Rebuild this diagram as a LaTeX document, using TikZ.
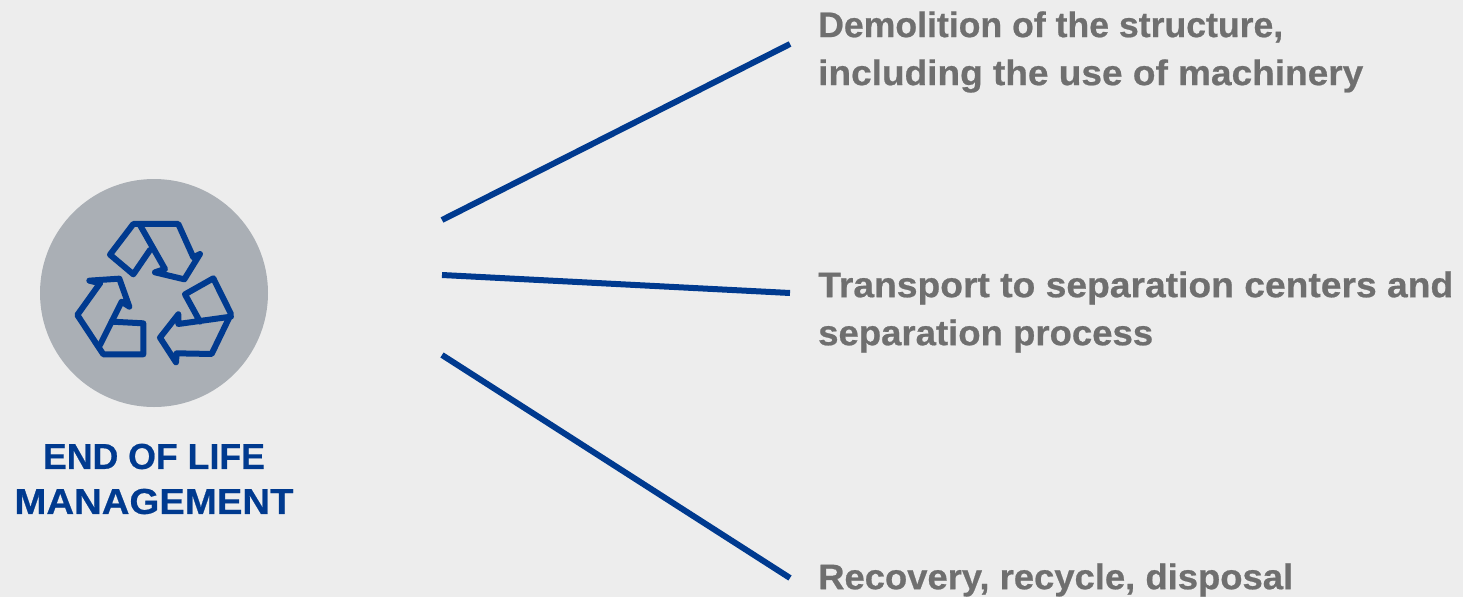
\documentclass[tikz,border=0pt]{standalone}
\usepackage{graphicx}
\usepackage{fontspec}
\setmainfont{Liberation Sans}
\newfontfamily\heavyfont[FakeBold=0.6]{Liberation Sans Bold}
\newcommand{\fitline}[2]{\resizebox{#1pt}{\height}{#2}}
\definecolor{bgc}{HTML}{EDEDED}
\definecolor{bluec}{HTML}{003A8F}
\definecolor{greyc}{HTML}{6F6F6F}
\definecolor{discc}{HTML}{AAAFB5}
\tikzset{
 conn/.style={draw=bluec,line width=6pt},
 item/.style={anchor=west,align=left,inner sep=0pt,text=greyc,font=\fontsize{35.5}{48}\selectfont\heavyfont},
 head/.style={align=center,inner sep=0pt,text=bluec,font=\fontsize{36}{45}\selectfont\heavyfont},
 disc/.style={circle,fill=discc,inner sep=0pt,minimum size=228pt},
 icon/.style={draw=bluec,line width=6pt,line join=round,line cap=round}
}
\begin{document}
\begin{tikzpicture}[x=1pt,y=-1pt]
\fill[bgc] (0,0) rectangle (1463,597);
\useasboundingbox (0,0) rectangle (1463,597);
\node[disc] (d) at (154,293) {};
\node[head] (h) at (154,479) {\fitline{222}{END OF LIFE}\\\fitline{279}{MANAGEMENT}};
\node[item] (t1) at (818,52) {\fitline{465}{Demolition of the structure,}\\\fitline{545}{including the use of machinery}};
\node[item] (t2) at (818,312) {\fitline{635}{Transport to separation centers and}\\\fitline{335}{separation process}};
\node[item] (t3) at (818,580) {\fitline{475}{Recovery, recycle, disposal}};
\coordinate (a1) at (442,220);
\coordinate (b1) at (790,44);
\coordinate (a2) at (442,275);
\coordinate (b2) at (790,293);
\coordinate (a3) at (442,355);
\coordinate (b3) at (790,578);
\draw[conn] (a1) -- (b1);
\draw[conn] (a2) -- (b2);
\draw[conn] (a3) -- (b3);
\begin{scope}[shift={(30,170)},x=0.3333pt,y=-0.3333pt]
\draw[icon] (360,240) -- (310,313) -- (240,254) -- (310,162) -- (445,162) -- (490,262) -- (510,252) -- (463,328) -- (375,307) -- (405,297) -- (330,165);
\draw[icon] (510,455) -- (465,373) -- (550,325) -- (603,432) -- (545,552) -- (440,550) -- (438,577) -- (390,503) -- (445,433) -- (445,462) -- (603,440);
\draw[icon] (210,340) -- (142,435) -- (220,553) -- (340,553) -- (340,460) -- (245,455);
\draw[icon] (210,525) -- (275,395) -- (298,410) -- (268,326) -- (178,332) -- (210,340);
\end{scope}
\end{tikzpicture}
\end{document}
